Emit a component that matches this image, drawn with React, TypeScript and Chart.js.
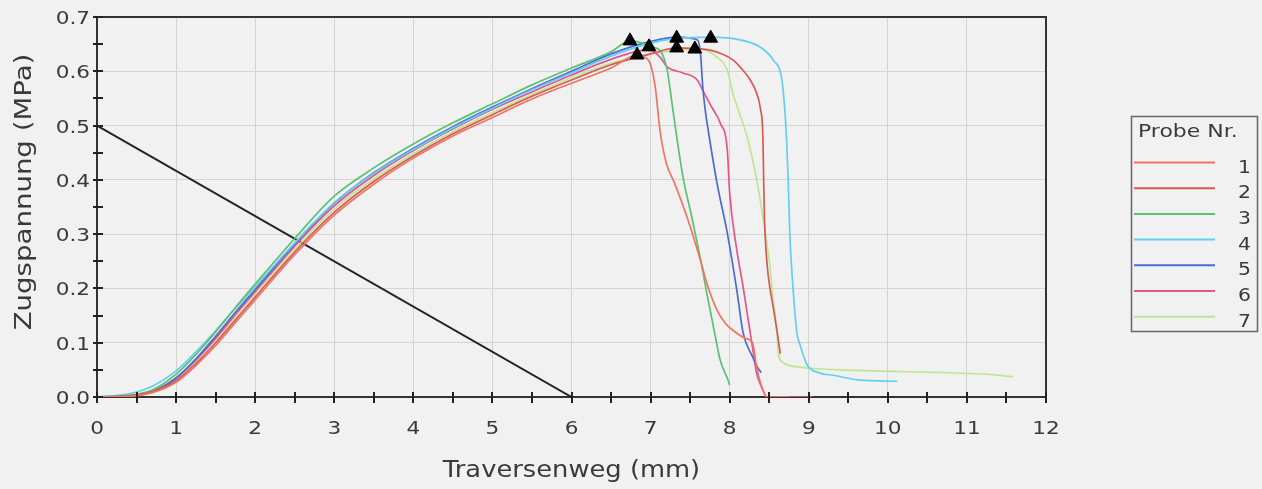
import React, { useEffect, useRef } from 'react';
import { Chart, registerables } from 'chart.js';

Chart.register(...registerables);

const W = 1262;
const H = 489;

const seriesLabels = ['1', '2', '3', '4', '5', '6', '7'];
const seriesColors = ['#f07462', '#d65a52', '#5cc072', '#62cff0', '#4a6bd4', '#e2558e', '#c0e592'];

// shared x-positions of the rising part (mm)
const riseX = [0, 0.4, 0.7, 1.0, 1.25, 1.5, 1.75, 2.0, 2.5, 3.0, 3.5, 4.0, 4.5, 5.0, 5.5, 6.0, 6.5];

// rising part stresses (MPa) per sample
const s1Rise = [0, 0.001, 0.008, 0.027, 0.058, 0.095, 0.137, 0.179, 0.262, 0.335, 0.392, 0.44, 0.481, 0.515, 0.549, 0.578, 0.606];
const s2Rise = [0, 0.002, 0.01, 0.03, 0.062, 0.1, 0.142, 0.184, 0.267, 0.34, 0.397, 0.444, 0.485, 0.52, 0.554, 0.584, 0.612];
const s3Rise = [0, 0.003, 0.013, 0.042, 0.078, 0.12, 0.165, 0.208, 0.292, 0.37, 0.422, 0.466, 0.505, 0.54, 0.575, 0.606, 0.636];
const s4Rise = [0, 0.006, 0.02, 0.048, 0.083, 0.122, 0.163, 0.203, 0.284, 0.358, 0.412, 0.456, 0.496, 0.532, 0.566, 0.597, 0.628];
const s5Rise = [0, 0.002, 0.01, 0.035, 0.07, 0.112, 0.156, 0.198, 0.282, 0.357, 0.413, 0.458, 0.498, 0.534, 0.568, 0.6, 0.632];
const s6Rise = [0, 0.002, 0.01, 0.034, 0.068, 0.108, 0.152, 0.194, 0.278, 0.352, 0.408, 0.454, 0.494, 0.53, 0.562, 0.593, 0.622];
const s7Rise = [0, 0.003, 0.012, 0.036, 0.068, 0.106, 0.148, 0.19, 0.272, 0.346, 0.402, 0.448, 0.489, 0.524, 0.557, 0.588, 0.615];

// peak and failure part per sample
const s1TailX = [6.83, 6.95, 7.0, 7.06, 7.12, 7.2, 7.3, 7.46, 7.63, 7.71, 7.84, 7.95, 8.04, 8.2, 8.29, 8.34, 8.38, 8.47, 8.75];
const s1TailY = [0.63, 0.624, 0.612, 0.57, 0.49, 0.43, 0.395, 0.332, 0.252, 0.21, 0.16, 0.135, 0.123, 0.108, 0.099, 0.056, 0.031, 0.0, 0.0];
const s2TailX = [7.0, 7.33, 7.55, 7.75, 7.9, 8.04, 8.15, 8.26, 8.34, 8.39, 8.42, 8.43, 8.44, 8.47, 8.51, 8.55, 8.6, 8.64];
const s2TailY = [0.632, 0.643, 0.642, 0.639, 0.632, 0.621, 0.605, 0.584, 0.56, 0.53, 0.48, 0.4, 0.33, 0.25, 0.2, 0.166, 0.12, 0.08];
const s3TailX = [6.74, 6.9, 7.03, 7.14, 7.21, 7.27, 7.33, 7.41, 7.52, 7.65, 7.71, 7.81, 7.88, 7.98, 8.0];
const s3TailY = [0.656, 0.652, 0.645, 0.634, 0.602, 0.542, 0.48, 0.405, 0.332, 0.24, 0.192, 0.118, 0.068, 0.031, 0.022];
const s4TailX = [7.0, 7.3, 7.76, 8.13, 8.38, 8.55, 8.66, 8.7, 8.72, 8.74, 8.76, 8.8, 8.85, 8.89, 8.98, 9.14, 9.31, 9.65, 10.12];
const s4TailY = [0.652, 0.66, 0.663, 0.658, 0.645, 0.621, 0.584, 0.523, 0.473, 0.4, 0.302, 0.203, 0.118, 0.096, 0.059, 0.044, 0.04, 0.031, 0.029];
const s5TailX = [7.0, 7.33, 7.59, 7.63, 7.66, 7.69, 7.73, 7.84, 7.97, 8.09, 8.17, 8.29, 8.35, 8.4];
const s5TailY = [0.655, 0.663, 0.658, 0.634, 0.571, 0.53, 0.49, 0.394, 0.302, 0.197, 0.118, 0.074, 0.055, 0.045];
const s6TailX = [6.98, 7.12, 7.21, 7.41, 7.59, 7.66, 7.75, 7.81, 7.88, 7.97, 8.0, 8.09, 8.17, 8.26, 8.3, 8.34, 8.42, 8.47, 9.05];
const s6TailY = [0.64, 0.626, 0.608, 0.597, 0.584, 0.565, 0.54, 0.525, 0.505, 0.455, 0.376, 0.271, 0.203, 0.118, 0.081, 0.044, 0.013, 0.0, 0.0];
const s7TailX = [7.0, 7.56, 7.63, 7.84, 7.97, 8.04, 8.13, 8.22, 8.35, 8.42, 8.51, 8.55, 8.6, 8.61, 8.67, 8.89, 9.02, 9.4, 10.15, 11.42, 11.58];
const s7TailY = [0.632, 0.641, 0.641, 0.626, 0.602, 0.56, 0.52, 0.48, 0.394, 0.332, 0.24, 0.179, 0.118, 0.087, 0.064, 0.055, 0.053, 0.05, 0.047, 0.04, 0.037];

// peak markers (triangles)
const peakX = [6.74, 6.83, 6.98, 7.33, 7.33, 7.56, 7.76];
const peakY = [0.656, 0.63, 0.645, 0.661, 0.643, 0.641, 0.661];

// black reference line
const refX = [0, 6];
const refY = [0.5, 0];

// axes
const xTickValues = [0, 1, 2, 3, 4, 5, 6, 7, 8, 9, 10, 11, 12];
const xTickLabels = ['0', '1', '2', '3', '4', '5', '6', '7', '8', '9', '10', '11', '12'];
const yTickValues = [0, 0.1, 0.2, 0.3, 0.4, 0.5, 0.6, 0.7];
const yTickLabels = ['0.0', '0.1', '0.2', '0.3', '0.4', '0.5', '0.6', '0.7'];
const xMinorTicks = [0, 0.5, 1, 1.5, 2, 2.5, 3, 3.5, 4, 4.5, 5, 5.5, 6, 6.5, 7, 7.5, 8, 8.5, 9, 9.5, 10, 10.5, 11, 11.5, 12];
const yMinorTicks = [0, 0.05, 0.1, 0.15, 0.2, 0.25, 0.3, 0.35, 0.4, 0.45, 0.5, 0.55, 0.6, 0.65, 0.7];
const xTitle = 'Traversenweg (mm)';
const yTitle = 'Zugspannung (MPa)';
const legendTitle = 'Probe Nr.';

const rises = [s1Rise, s2Rise, s3Rise, s4Rise, s5Rise, s6Rise, s7Rise];
const tailsX = [s1TailX, s2TailX, s3TailX, s4TailX, s5TailX, s6TailX, s7TailX];
const tailsY = [s1TailY, s2TailY, s3TailY, s4TailY, s5TailY, s6TailY, s7TailY];

const FONT = '"DejaVu Sans", Verdana, sans-serif';
const TEXT = '#3a3a3a';

function stretchText(ctx: CanvasRenderingContext2D, text: string, x: number, y: number, size: number, sx: number, align: CanvasTextAlign, rotate = false) {
  ctx.save();
  ctx.font = `${size}px ${FONT}`;
  ctx.fillStyle = TEXT;
  ctx.textAlign = align;
  ctx.textBaseline = 'alphabetic';
  ctx.translate(x, y);
  if (rotate) ctx.rotate(-Math.PI / 2);
  ctx.scale(sx, 1);
  ctx.fillText(text, 0, 0);
  ctx.restore();
}

const decorPlugin = {
  id: 'decor',
  afterDraw(chart: any) {
    const { ctx, chartArea } = chart;
    const xs = chart.scales.x;
    const ys = chart.scales.y;
    const { left, right, top, bottom } = chartArea;
    ctx.save();
    // frame top/right
    ctx.strokeStyle = '#333';
    ctx.lineWidth = 2;
    ctx.beginPath();
    ctx.moveTo(left, top);
    ctx.lineTo(right, top);
    ctx.lineTo(right, bottom);
    ctx.stroke();
    // crossing ticks
    ctx.lineWidth = 2;
    ctx.strokeStyle = '#222';
    ctx.beginPath();
    xMinorTicks.forEach((v) => {
      const px = Math.round(xs.getPixelForValue(v));
      ctx.moveTo(px, bottom - 5);
      ctx.lineTo(px, bottom + 6);
    });
    yMinorTicks.forEach((v) => {
      const py = Math.round(ys.getPixelForValue(v));
      ctx.moveTo(left - 4, py);
      ctx.lineTo(left + 6, py);
    });
    ctx.stroke();
    ctx.restore();

    // tick labels
    xTickValues.forEach((v, i) => {
      stretchText(ctx, xTickLabels[i], xs.getPixelForValue(v), bottom + 37, 18, 1.2, 'center');
    });
    yTickValues.forEach((v, i) => {
      stretchText(ctx, yTickLabels[i], left - 7, ys.getPixelForValue(v) + 7, 18, 1.2, 'right');
    });

    // axis titles
    stretchText(ctx, xTitle, (left + right) / 2, 477, 23, 1.12, 'center');
    stretchText(ctx, yTitle, 31, 192, 23, 1.2, 'center', true);

    // legend
    ctx.save();
    ctx.strokeStyle = '#666';
    ctx.lineWidth = 1.5;
    ctx.strokeRect(1131.5, 116.5, 126, 215);
    ctx.restore();
    stretchText(ctx, legendTitle, 1138, 137, 18, 1.22, 'left');
    seriesLabels.forEach((lab, i) => {
      const ly = 162.5 + i * 25.7;
      ctx.save();
      ctx.strokeStyle = seriesColors[i];
      ctx.lineWidth = 2;
      ctx.beginPath();
      ctx.moveTo(1134, ly);
      ctx.lineTo(1215, ly);
      ctx.stroke();
      ctx.restore();
      stretchText(ctx, lab, 1251, ly + 10, 17, 1.2, 'right');
    });
  },
};

export default function App() {
  const ref = useRef<HTMLCanvasElement>(null);
  useEffect(() => {
    if (!ref.current) return;
    const lineSets = seriesLabels.map((lab, i) => ({
      label: lab,
      data: [
        ...riseX.map((x, k) => ({ x, y: rises[i][k] })),
        ...tailsX[i].map((x, k) => ({ x, y: tailsY[i][k] })),
      ],
      showLine: true,
      cubicInterpolationMode: 'monotone',
      borderColor: seriesColors[i],
      backgroundColor: seriesColors[i],
      borderWidth: 1.7,
      pointRadius: 0,
      fill: false,
      order: 2,
    }));
    const chart = new Chart(ref.current, {
      type: 'scatter',
      data: {
        datasets: [
          {
            label: 'peaks',
            data: peakX.map((x, i) => ({ x, y: peakY[i] })),
            pointStyle: 'triangle',
            pointRadius: 8,
            backgroundColor: '#000',
            borderColor: '#000',
            borderWidth: 1,
            showLine: false,
            order: 0,
          },
          ...lineSets,
          {
            label: 'ref',
            data: refX.map((x, i) => ({ x, y: refY[i] })),
            showLine: true,
            borderColor: '#222',
            borderWidth: 2,
            pointRadius: 0,
            order: 3,
          },
        ] as any,
      },
      options: {
        responsive: false,
        animation: false,
        events: [],
        layout: { padding: { left: 0, top: 17, right: W - 1046, bottom: 0 } },
        plugins: { legend: { display: false }, tooltip: { enabled: false } },
        scales: {
          x: {
            type: 'linear',
            min: 0,
            max: 12,
            afterFit: (s: any) => { s.height = 92; },
            ticks: { display: false, stepSize: 1 },
            grid: { color: '#d4d4d4', lineWidth: 1, drawTicks: false },
            border: { display: true, color: '#333', width: 2 },
          },
          y: {
            type: 'linear',
            min: 0,
            max: 0.7,
            afterFit: (s: any) => { s.width = 97; },
            ticks: { display: false, stepSize: 0.1 },
            grid: { color: '#d4d4d4', lineWidth: 1, drawTicks: false },
            border: { display: true, color: '#333', width: 2 },
          },
        },
      } as any,
      plugins: [decorPlugin],
    });
    return () => chart.destroy();
  }, []);
  return (
    <div style={{ position: 'fixed', left: 0, top: 0, width: W, height: H, background: '#f1f1f1' }}>
      <canvas ref={ref} width={W} height={H} style={{ width: W, height: H, display: 'block' }} />
    </div>
  );
}
